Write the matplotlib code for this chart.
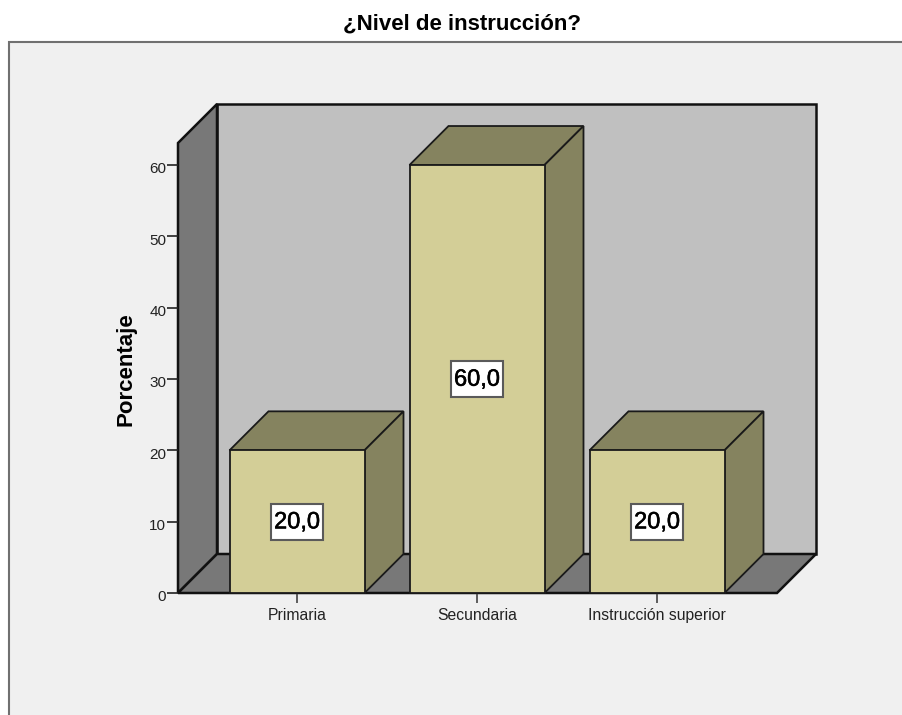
import matplotlib
matplotlib.use('Agg')
import matplotlib.pyplot as plt
import matplotlib.patheffects as pe
from matplotlib.patches import Polygon, Rectangle
from matplotlib.transforms import ScaledTranslation

categories = ['Primaria', 'Secundaria', 'Instrucción superior']
values = [20.0, 60.0, 20.0]
value_labels = ['20,0', '60,0', '20,0']
y_ticks = [0, 10, 20, 30, 40, 50, 60]

W, H = 902, 715
plt.rcParams['font.family'] = ['Liberation Sans', 'DejaVu Sans']

fig = plt.figure(figsize=(W / 100, H / 100), dpi=100, facecolor='white')

# grey chart panel with a darker outline on the top and left
panel = Rectangle((9 / W, -0.1), 1, 1.1 - 42 / H, transform=fig.transFigure,
                  facecolor='#f0f0f0', edgecolor='#707070', linewidth=1.5, zorder=-1)
fig.add_artist(panel)

ax = fig.add_axes([178 / W, (H - 593) / H, 599 / W, 450 / H])
ax.patch.set_visible(False)
ax.set_xlim(-119 / 180, 480 / 180)
ax.set_ylim(0, 450 / 7.133)
for s in ax.spines.values():
    s.set_visible(False)

# oblique depth of the box, in data units
dx = 39 / 180
dy = 39 / 7.133
x0, x1 = ax.get_xlim()
y0, y1 = ax.get_ylim()

wall_kw = dict(edgecolor='#111111', linewidth=1.8, joinstyle='miter', clip_on=False)
ax.add_patch(Polygon([(x0 + dx, y0 + dy), (x1 + dx, y0 + dy), (x1 + dx, y1 + dy), (x0 + dx, y1 + dy)],
                     facecolor='#c0c0c0', zorder=1, **wall_kw))
ax.add_patch(Polygon([(x0, y0), (x0, y1), (x0 + dx, y1 + dy), (x0 + dx, y0 + dy)],
                     facecolor='#787878', zorder=1, **wall_kw))
ax.add_patch(Polygon([(x0, y0), (x1, y0), (x1 + dx, y0 + dy), (x0 + dx, y0 + dy)],
                     facecolor='#787878', zorder=1, **wall_kw))

bar_w = 135 / 180
bar_kw = dict(edgecolor='#1a1a1a', linewidth=1.3, joinstyle='miter', clip_on=False)
xs = range(len(categories))
for i, v in zip(xs, values):
    l, r = i - bar_w / 2, i + bar_w / 2
    ax.add_patch(Polygon([(l, v), (r, v), (r + dx, v + dy), (l + dx, v + dy)],
                         facecolor='#85835f', zorder=2, **bar_kw))
    ax.add_patch(Polygon([(r, 0), (r + dx, dy), (r + dx, v + dy), (r, v)],
                         facecolor='#85835f', zorder=2, **bar_kw))
ax.bar(xs, values, width=bar_w, color='#d3ce97', edgecolor='#1a1a1a', linewidth=1.3, zorder=3, clip_on=False)

# white value boxes centred on each bar
box_w = 52 / 180
box_h = 36 / 7.133
for i, v, lab in zip(xs, values, value_labels):
    ax.add_patch(Rectangle((i - box_w / 2, v / 2 - box_h / 2), box_w, box_h, facecolor='white',
                           edgecolor='#5a5a5a', linewidth=1.5, zorder=4))
    ax.text(i, v / 2 - 0.1, lab, ha='center', va='center', fontsize=17, color='black', zorder=5,
            path_effects=[pe.withStroke(linewidth=0.4, foreground='black')])

ax.set_xticks(list(xs))
ax.set_xticklabels(categories, fontsize=11.3, color='#222222')
ax.set_yticks(y_ticks)
ax.tick_params(axis='y', labelsize=11, labelcolor='#222222', length=8, width=1.2, color='#222222', pad=0.5)
ax.tick_params(axis='x', length=7.2, width=1.2, color='#444444', pad=3.5)

# value labels on the y axis sit slightly under their ticks
offset = ScaledTranslation(0, -2 / 72, fig.dpi_scale_trans)
for lab in ax.get_yticklabels():
    lab.set_transform(lab.get_transform() + offset)

ax.set_ylabel('Porcentaje', fontsize=16, fontweight='bold', color='black')
ax.yaxis.set_label_coords((137 - 178) / 599, (593 - 369) / 450)

fig.text(462 / W, 1 - 30 / H, '¿Nivel de instrucción?', ha='center', va='baseline',
         fontsize=16, fontweight='bold', color='black')

fig.savefig('out.png', dpi=100)
